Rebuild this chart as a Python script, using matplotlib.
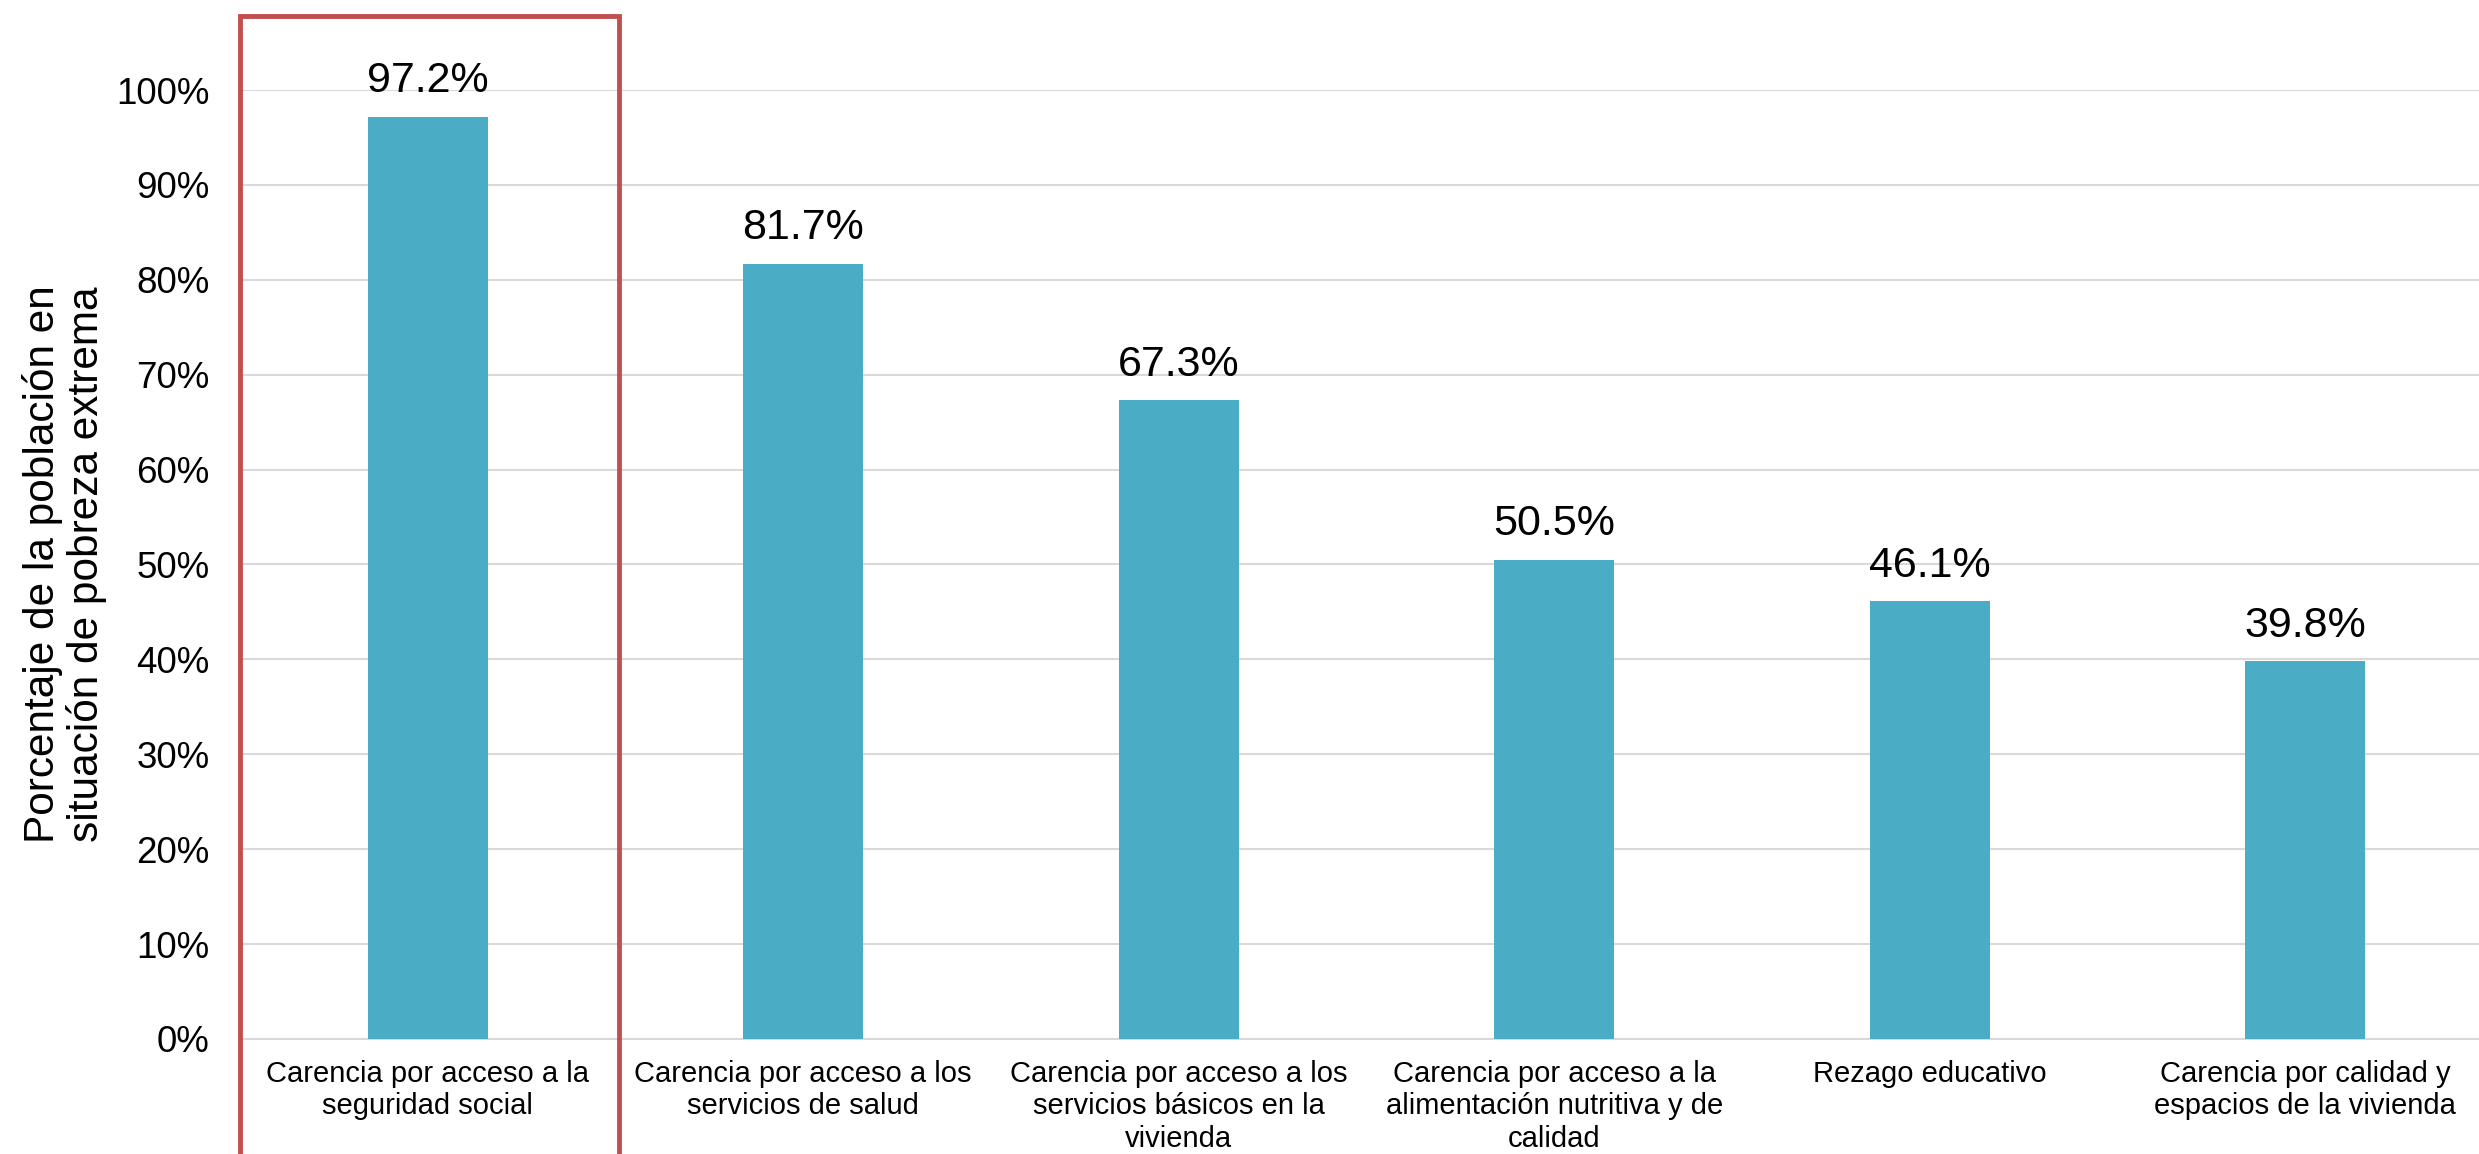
import matplotlib.pyplot as plt
from matplotlib.patches import Rectangle
from matplotlib.transforms import blended_transform_factory

plt.rcParams['font.family'] = ['Liberation Sans', 'DejaVu Sans']

# datos
categorias = [
    'Carencia por acceso a la\nseguridad social',
    'Carencia por acceso a los\nservicios de salud',
    'Carencia por acceso a los\nservicios básicos en la\nvivienda',
    'Carencia por acceso a la\nalimentación nutritiva y de\ncalidad',
    'Rezago educativo',
    'Carencia por calidad y\nespacios de la vivienda',
]
porcentajes = [97.2, 81.7, 67.3, 50.5, 46.1, 39.8]
destacado = 0  # categoria enmarcada en rojo

fig = plt.figure(figsize=(24.79, 11.54), dpi=100)
ax = fig.add_axes([0.0968, 0.0997, 0.9088, 0.8223])

x = range(len(categorias))
barras = ax.bar(x, porcentajes, width=0.32, color='#4bacc6', zorder=3)
ax.bar_label(barras, labels=[f'{v:.1f}%' for v in porcentajes],
             padding=11, fontsize=31, color='black')

ax.set_xlim(-0.5, len(categorias) - 0.5)
ax.set_ylim(0, 100)
ax.set_yticks(range(0, 101, 10))
ax.set_yticklabels([f'{t}%' for t in range(0, 101, 10)])
ax.set_xticks(list(x))
ax.set_xticklabels(categorias, fontsize=21, linespacing=1.2, va='top')
ax.tick_params(axis='y', length=0, pad=22, labelsize=26.5)
ax.tick_params(axis='x', length=0, pad=15)

ax.grid(axis='y', color='#d9d9d9', linewidth=1.5, zorder=0)
for s in ['top', 'right', 'left']:
    ax.spines[s].set_visible(False)
ax.spines['bottom'].set_color('#d9d9d9')
ax.spines['bottom'].set_linewidth(1.5)

ax.set_ylabel('Porcentaje de la población en\nsituación de pobreza extrema',
              fontsize=30.5, va='center', ha='center', linespacing=1.1)
ax.yaxis.set_label_coords(-0.078, 0.5)

# recuadro rojo
tr = blended_transform_factory(ax.transData, fig.transFigure)
caja = Rectangle((destacado - 0.5, -0.02), 1.01, 1.006,
                 transform=tr, fill=False, edgecolor='#c0504d',
                 linewidth=3.5, clip_on=False, zorder=5)
fig.add_artist(caja)

fig.savefig('out.png', dpi=100, facecolor='white')
